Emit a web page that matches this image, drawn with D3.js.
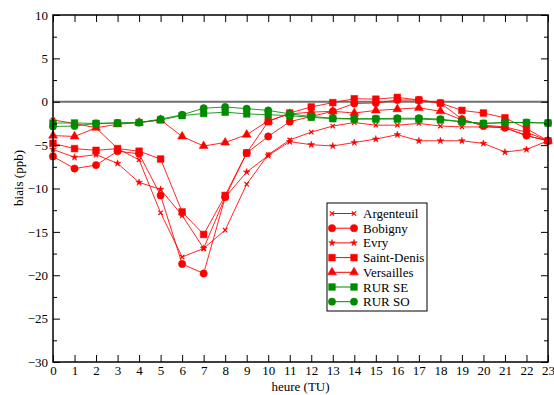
<!DOCTYPE html>
<html><head><meta charset="utf-8">
<script src="https://cdn.jsdelivr.net/npm/d3@7/dist/d3.min.js"></script>
<style>body{margin:0;background:#fff}svg{display:block}text{font-family:"Liberation Serif","Times New Roman",serif;}</style>
</head><body><svg id="c" width="554" height="395"></svg>
<script>
const hours = d3.range(0, 24);
const xTicks = d3.range(0, 24);
const yTicks = [-30, -25, -20, -15, -10, -5, 0, 5, 10];
const yMinorTicks = [-27.5, -22.5, -17.5, -12.5, -7.5, -2.5, 2.5, 7.5];
const seriesNames = ["Argenteuil", "Bobigny", "Evry", "Saint-Denis", "Versailles", "RUR SE", "RUR SO"];
const argenteuil = [-2.1,-2.5,-3.0,-5.4,-6.7,-12.8,-17.9,-16.9,-14.8,-9.5,-6.1,-4.4,-3.5,-2.8,-2.4,-2.7,-2.7,-2.5,-2.8,-2.9,-2.9,-3.0,-3.9,-4.5];
const bobigny = [-6.3,-7.7,-7.3,-5.7,-6.0,-10.8,-18.7,-19.8,-11.0,-5.9,-4.0,-2.3,-1.7,-1.1,-0.2,-0.15,0.2,0.2,-0.15,-2.0,-2.8,-3.0,-3.9,-4.5];
const evry = [-5.5,-6.4,-6.1,-7.1,-9.3,-10.1,-13.1,-16.9,-11.0,-8.1,-6.2,-4.6,-4.95,-5.1,-4.7,-4.3,-3.8,-4.5,-4.5,-4.5,-4.8,-5.8,-5.5,-4.5];
const saintDenis = [-4.8,-5.4,-5.6,-5.4,-5.7,-6.6,-12.7,-15.3,-10.8,-5.9,-2.3,-1.3,-0.6,-0.1,0.35,0.3,0.5,0.2,-0.15,-1.0,-1.3,-1.85,-3.1,-4.5];
const versailles = [-3.9,-4.0,-3.0,-2.6,-2.4,-2.1,-4.0,-5.1,-4.7,-3.8,-2.2,-1.4,-1.2,-1.1,-1.3,-1.0,-0.85,-0.7,-1.1,-2.1,-2.7,-2.9,-3.5,-4.5];
const rurSE = [-2.45,-2.45,-2.5,-2.45,-2.4,-2.1,-1.6,-1.35,-1.2,-1.4,-1.5,-1.6,-1.8,-1.95,-2.0,-2.0,-2.0,-2.0,-2.1,-2.3,-2.5,-2.4,-2.4,-2.45];
const rurSO = [-2.85,-2.8,-2.5,-2.45,-2.4,-2.0,-1.5,-0.75,-0.6,-0.8,-1.0,-1.4,-1.7,-1.9,-1.95,-1.95,-1.9,-1.9,-2.0,-2.3,-2.5,-2.4,-2.4,-2.45];
const seriesValues = [argenteuil, bobigny, evry, saintDenis, versailles, rurSE, rurSO];
const seriesColors = ["#ff0000","#ff0000","#ff0000","#ff0000","#ff0000","#008b00","#008b00"];
const seriesMarkers = ["cross","circle","star","square","triangle","square","circle"];

const svg = d3.select("#c");
const L = 53, R = 548, T = 15, B = 362;
const x = d3.scaleLinear().domain([0, 23]).range([L, R]);
const y = d3.scaleLinear().domain([-30, 10]).range([B, T]);

svg.append("line").attr("x1", x(0)).attr("x2", x(23)).attr("y1", y(0)).attr("y2", y(0))
  .attr("stroke", "#707070").attr("stroke-width", 2);

function markerPath(type) {
  if (type === "circle") return d3.symbol(d3.symbolCircle, 42)();
  if (type === "square") return d3.symbol(d3.symbolSquare, 45)();
  if (type === "triangle") return d3.symbol(d3.symbolTriangle, 34)();
  if (type === "star") return d3.symbol(d3.symbolStar, 14)();
  if (type === "cross") return d3.symbol(d3.symbolX, 14)();
  return d3.symbol(d3.symbolCircle, 20)();
}

const line = d3.line().x((d, i) => x(hours[i])).y(d => y(d));
seriesValues.forEach((vals, k) => {
  const g = svg.append("g");
  g.append("path").attr("d", line(vals)).attr("fill", "none")
    .attr("stroke", seriesColors[k]).attr("stroke-width", 1).attr("stroke-opacity", 0.85);
  const m = seriesMarkers[k];
  g.selectAll("path.m").data(vals).join("path").attr("class", "m")
    .attr("d", markerPath(m))
    .attr("transform", (d, i) => `translate(${x(hours[i])},${y(d)})`)
    .attr("fill", m === "cross" ? "none" : seriesColors[k])
    .attr("stroke", seriesColors[k]).attr("stroke-width", m === "cross" ? 1.2 : 0.5);
});

svg.append("rect").attr("x", L).attr("y", T).attr("width", R - L).attr("height", B - T)
  .attr("fill", "none").attr("stroke", "#000").attr("stroke-width", 1.5);

function style(g) {
  g.select(".domain").remove();
  g.selectAll(".tick line").attr("stroke", "#000").attr("stroke-width", 1);
  g.selectAll("text").attr("font-size", 13).attr("fill", "#000")
    .attr("font-family", "Liberation Serif, Times New Roman, serif");
}
svg.append("g").attr("transform", `translate(${L},0)`)
  .call(d3.axisLeft(y).tickValues(yTicks).tickFormat(d3.format("d")).tickSize(-7).tickPadding(5)).call(style);
svg.append("g").attr("transform", `translate(${L},0)`)
  .call(d3.axisLeft(y).tickValues(yMinorTicks).tickFormat("").tickSize(-4)).call(style);
svg.append("g").attr("transform", `translate(${R},0)`)
  .call(d3.axisRight(y).tickValues(yTicks).tickFormat("").tickSize(-7)).call(style);
svg.append("g").attr("transform", `translate(${R},0)`)
  .call(d3.axisRight(y).tickValues(yMinorTicks).tickFormat("").tickSize(-4)).call(style);
svg.append("g").attr("transform", `translate(0,${B})`)
  .call(d3.axisBottom(x).tickValues(xTicks).tickFormat(d3.format("d")).tickSize(-7).tickPadding(4)).call(style);
svg.append("g").attr("transform", `translate(0,${T})`)
  .call(d3.axisTop(x).tickValues(xTicks).tickFormat("").tickSize(-7)).call(style);

svg.append("text").attr("x", (L + R) / 2).attr("y", 391).attr("text-anchor", "middle")
  .attr("font-size", 13).text("heure (TU)");
svg.append("text").attr("transform", "translate(23,178) rotate(-90)").attr("text-anchor", "middle")
  .attr("font-size", 13).text("biais (ppb)");

const lg = svg.append("g");
lg.append("rect").attr("x", 327).attr("y", 203).attr("width", 100).attr("height", 108)
  .attr("fill", "#fff").attr("stroke", "#000").attr("stroke-width", 1);
seriesNames.forEach((name, k) => {
  const yy = 213.5 + k * 14.7;
  lg.append("line").attr("x1", 332).attr("x2", 354).attr("y1", yy).attr("y2", yy)
    .attr("stroke", seriesColors[k]).attr("stroke-width", 1);
  const m = seriesMarkers[k];
  [332, 354].forEach(px => {
    lg.append("path").attr("d", markerPath(m)).attr("transform", `translate(${px},${yy})`)
      .attr("fill", m === "cross" ? "none" : seriesColors[k])
      .attr("stroke", seriesColors[k]).attr("stroke-width", m === "cross" ? 1.2 : 0.5);
  });
  lg.append("text").attr("x", 363).attr("y", yy + 4.5).attr("font-size", 13).text(name);
});
</script></body></html>
